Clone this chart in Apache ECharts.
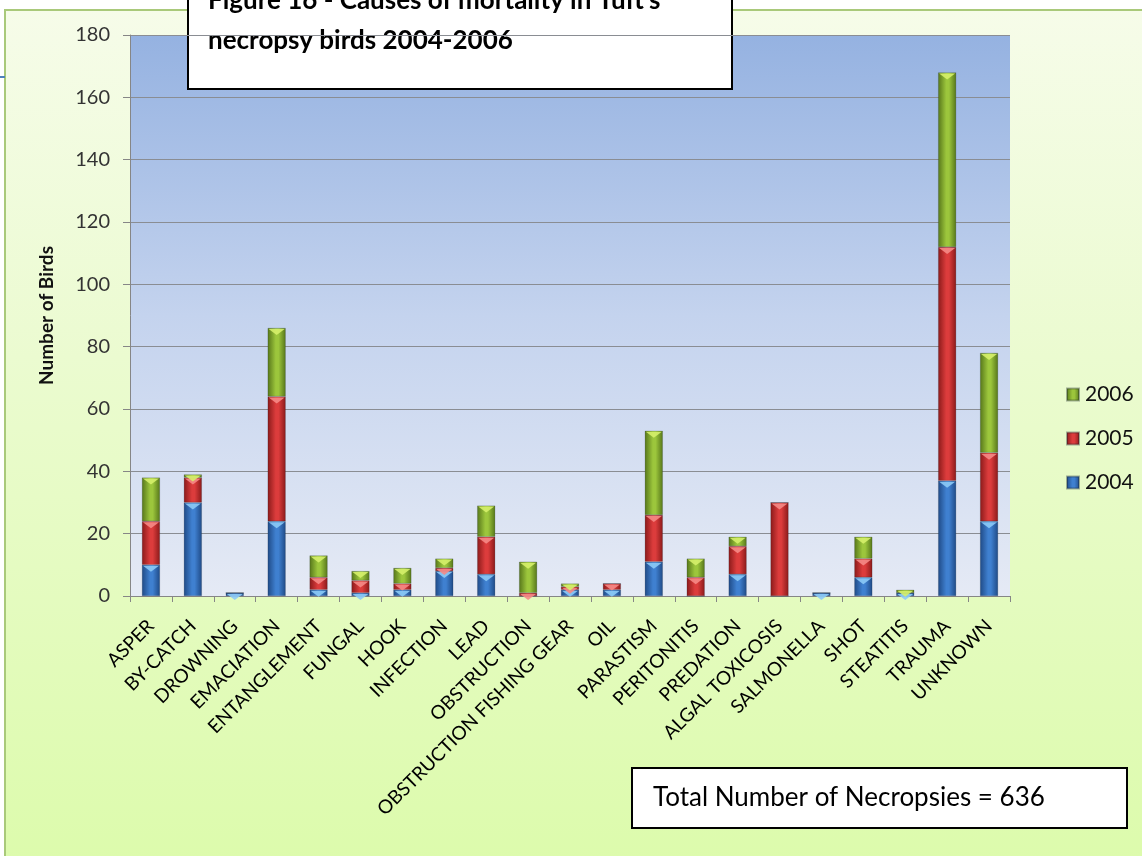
<!DOCTYPE html>
<html>
<head>
<meta charset="utf-8">
<title>Causes of mortality in necropsy birds 2004-2006</title>
<script src="https://cdn.jsdelivr.net/npm/echarts@6/dist/echarts.min.js"></script>
<style>
  html, body { margin: 0; padding: 0; background: #ffffff; overflow: hidden; }
  #frame {
    position: absolute; left: 4px; top: 9px; width: 1160px; height: 870px;
    border: 2px solid #a9c97a; box-sizing: border-box;
    background: linear-gradient(to bottom, #f6fce9 0%, #ebfbd0 40%, #dcfbab 100%);
  }
  #tab { position: absolute; left: 0; top: 76px; width: 5px; height: 2px; background: #4f81bd; }
  #chart { position: absolute; left: 0; top: 0; width: 1142px; height: 856px; }
</style>
</head>
<body>
<div id="frame"></div>
<div id="tab"></div>
<div id="chart"></div>
<script>
// Causes of death, one entry per category
const causes = [
  'ASPER', 'BY-CATCH', 'DROWNING', 'EMACIATION', 'ENTANGLEMENT', 'FUNGAL', 'HOOK',
  'INFECTION', 'LEAD', 'OBSTRUCTION', 'OBSTRUCTION FISHING GEAR', 'OIL', 'PARASTISM',
  'PERITONITIS', 'PREDATION', 'ALGAL TOXICOSIS', 'SALMONELLA', 'SHOT', 'STEATITIS',
  'TRAUMA', 'UNKNOWN'
];

// Number of birds per cause and year
const birds2004 = [10, 30, 1, 24, 2, 1, 2, 8, 7, 0, 2, 2, 11, 0, 7, 0, 1, 6, 1, 37, 24];
const birds2005 = [14, 8, 0, 40, 4, 4, 2, 1, 12, 1, 1, 2, 15, 6, 9, 30, 0, 6, 0, 75, 22];
const birds2006 = [14, 1, 0, 22, 7, 3, 5, 3, 10, 10, 1, 0, 27, 6, 3, 0, 0, 7, 1, 56, 32];

const yearNames = ['2004', '2005', '2006'];
const yTicks = { min: 0, max: 180, step: 20 };

const titleLines = ["Figure 16 - Causes of mortality in Tuft's", 'necropsy birds 2004-2006'];
const totalNote = 'Total Number of Necropsies = 636';

const FONT = 'Lato, "Open Sans", sans-serif';

function barFill(dark, light) {
  return {
    type: 'linear', x: 0, y: 0, x2: 1, y2: 0,
    colorStops: [
      { offset: 0, color: dark },
      { offset: 0.45, color: light },
      { offset: 0.6, color: light },
      { offset: 1, color: dark }
    ]
  };
}

const palette = [
  { fill: barFill('#1f4a86', '#3f80d0'), bevel: '#8ccaf6' },
  { fill: barFill('#8a1a1a', '#dc3c3c'), bevel: '#f58a86' },
  { fill: barFill('#56761a', '#9cc63c'), bevel: '#d6ef6a' }
];

const yearData = [birds2004, birds2005, birds2006];

// stacked bars
const series = yearData.map((vals, s) => ({
  name: yearNames[s],
  type: 'bar',
  stack: 'total',
  barWidth: 18,
  data: vals,
  itemStyle: { color: palette[s].fill, borderColor: 'rgba(20,30,40,0.35)', borderWidth: 0.5 },
  emphasis: { disabled: true }
}));

// bevelled top facet on every non-empty segment
yearData.forEach((vals, s) => {
  const items = vals.map((v, i) => {
    let top = 0;
    for (let k = 0; k <= s; k++) top += yearData[k][i];
    return [i, top, v];
  });
  series.push({
    name: 'facet' + yearNames[s],
    type: 'custom',
    silent: true,
    z: 5,
    data: items,
    renderItem: function (params, api) {
      if (api.value(2) <= 0) return null;
      const p = api.coord([api.value(0), api.value(1)]);
      return {
        type: 'polygon',
        shape: { points: [[p[0] - 8, p[1] + 1], [p[0] + 8, p[1] + 1], [p[0], p[1] + 7]] },
        style: { fill: palette[s].bevel, opacity: 0.9 }
      };
    }
  });
});

const chart = echarts.init(document.getElementById('chart'), null, { renderer: 'canvas' });

chart.setOption({
  backgroundColor: 'transparent',
  animation: false,
  textStyle: { fontFamily: FONT },
  grid: {
    left: 130, right: 132, top: 35, bottom: 260,
    show: true,
    borderWidth: 0,
    backgroundColor: {
      type: 'linear', x: 0, y: 0, x2: 0, y2: 1,
      colorStops: [
        { offset: 0, color: '#95b2e1' },
        { offset: 0.5, color: '#c4d3ee' },
        { offset: 1, color: '#e5eaf5' }
      ]
    }
  },
  legend: {
    data: ['2006', '2005', '2004'],
    orient: 'vertical',
    left: 1061,
    top: 379,
    itemWidth: 12,
    itemHeight: 12,
    itemGap: 23,
    icon: 'rect',
    textStyle: { fontSize: 21, color: '#111', fontFamily: FONT, padding: [0, 0, 0, 1] }
  },
  xAxis: {
    type: 'category',
    data: causes,
    axisLine: { lineStyle: { color: '#868686', width: 1 } },
    axisTick: { show: true, length: 6, lineStyle: { color: '#868686' } },
    axisLabel: {
      rotate: 45, interval: 0, margin: 27,
      fontSize: 19, color: '#000', fontFamily: FONT
    }
  },
  yAxis: {
    type: 'value',
    min: yTicks.min, max: yTicks.max, interval: yTicks.step,
    name: 'Number of Birds',
    nameLocation: 'middle',
    nameRotate: 90,
    nameGap: 74,
    nameTextStyle: { fontSize: 19, fontWeight: 'bold', color: '#111', fontFamily: FONT },
    axisLine: { show: true, lineStyle: { color: '#868686' } },
    axisTick: { show: true, length: 7, lineStyle: { color: '#868686' } },
    axisLabel: { margin: 20, fontSize: 20, color: '#333', fontFamily: FONT },
    splitLine: { show: true, lineStyle: { color: '#8a8d93', width: 1 } }
  },
  series: series,
  graphic: [
    {
      type: 'group', z: 100,
      children: [
        {
          type: 'rect',
          shape: { x: 188, y: -20, width: 544, height: 109 },
          style: { fill: '#ffffff', stroke: '#000000', lineWidth: 2 }
        },
        {
          type: 'text', x: 208, y: 1,
          style: { text: titleLines[0], fill: '#000', font: 'bold 26px ' + FONT, verticalAlign: 'middle' }
        },
        {
          type: 'text', x: 208, y: 41,
          style: { text: titleLines[1], fill: '#000', font: 'bold 26px ' + FONT, verticalAlign: 'middle' }
        }
      ]
    },
    {
      type: 'group', z: 100,
      children: [
        {
          type: 'rect',
          shape: { x: 632, y: 768, width: 495, height: 60 },
          style: { fill: '#ffffff', stroke: '#000000', lineWidth: 2 }
        },
        {
          type: 'text', x: 653, y: 798,
          style: { text: totalNote, fill: '#000', font: '26px ' + FONT, verticalAlign: 'middle' }
        }
      ]
    }
  ]
});
</script>
</body>
</html>
